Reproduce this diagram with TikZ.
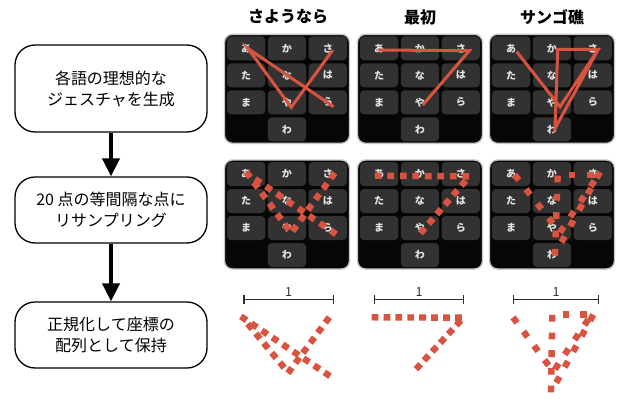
\documentclass[tikz,border=0pt]{standalone}
\usepackage{fontspec}
\setmainfont{Noto Sans CJK JP}
\usetikzlibrary{decorations.markings,arrows.meta}
\definecolor{strokec}{RGB}{217,84,64}
\definecolor{keyc}{RGB}{50,50,50}
\definecolor{kbc}{RGB}{6,6,6}
\definecolor{keytxt}{RGB}{228,228,228}
\definecolor{barc}{RGB}{45,45,45}
\newcommand\kbdraw[3]{%
\begin{scope}[shift={(#1,#2)}]
  \draw[draw=black!22, line width=1.4pt, fill=kbc, rounded corners=8pt] (0,0) rectangle (125,109);
  \foreach \r/\c/\lab in {0/0/あ,0/1/か,0/2/さ,1/0/た,1/1/な,1/2/は,2/0/ま,2/1/や,2/2/ら,3/1/わ}{
    \fill[keyc, rounded corners=4pt] ({2.5+\c*40.8},{2+\r*27}) rectangle +(38.3,24);
    \node[keylab] (#3-\r-\c) at ({21.65+\c*40.8},{14+\r*27}) {\lab};
  }
\end{scope}}
\begin{document}
\begin{tikzpicture}[x=1pt,y=-1pt,
  stepbox/.style={draw=black, line width=1.3pt, rounded corners=20pt, minimum width=192pt, align=center, inner sep=0pt, font=\fontsize{16}{21}\selectfont},
  flowarrow/.style={line width=4pt, -{Triangle[length=18pt,width=17pt]}},
  keylab/.style={text=keytxt, font=\bfseries\fontsize{10}{10}\selectfont, inner sep=0pt},
  title/.style={font=\bfseries\fontsize{16}{16}\selectfont, inner sep=0pt},
  gesture/.style={draw=strokec, line width=3pt, line join=miter},
  resampled/.style={decorate, decoration={markings, mark=between positions 0 and 1 step #1 with {\fill[strokec] (-3.4pt,-3.2pt) rectangle (3.4pt,3.2pt);}}},
  resampled/.default=0.0526315,
  scalebar/.style={draw=barc, line width=1.2pt, {Bar[width=9pt]}-{Bar[width=9pt]}},
  barlab/.style={above, inner sep=2pt, text=barc, font=\fontsize{12.5}{12.5}\selectfont}
]
\useasboundingbox (0,0) rectangle (622,399);

% left flow
\node[stepbox, minimum height=87pt] (box1) at (111,88.5) {各語の理想的な\\ジェスチャを生成};
\node[stepbox, minimum height=66pt] (box2) at (111,210) {20 点の等間隔な点に\\リサンプリング};
\node[stepbox, minimum height=66pt] (box3) at (111,335) {正規化して座標の\\配列として保持};
\draw[flowarrow] (box1.south) -- (box2.north);
\draw[flowarrow] (box2.south) -- (box3.north);

% titles
\node[title] (t1) at (288,17) {さようなら};
\node[title] (t2) at (420,17) {最初};
\node[title] (t3) at (552,17) {サンゴ礁};

% row 1: keyboards with gestures
\kbdraw{224.5}{34.3}{ka}
\kbdraw{357.5}{34.3}{kb}
\kbdraw{489.5}{34.3}{kc}
\begin{scope}[shift={(224.5,34.3)}]
  \draw[gesture] (108.3,15.7) -- (66.7,73) -- (23.3,14) -- (109,72.4);
\end{scope}
\begin{scope}[shift={(357.5,34.3)}]
  \draw[gesture] (20.8,15.7) -- (111.8,16.4) -- (65.2,70.7);
\end{scope}
\begin{scope}[shift={(489.5,34.3)}]
  \draw[gesture] (108.8,15) -- (65.5,94) -- (68.2,15) -- (108.8,15) -- (70.5,72.4) -- (27.2,17.4);
\end{scope}

% row 2: resampled
\kbdraw{224.5}{160}{kd}
\kbdraw{357.5}{160}{ke}
\kbdraw{489.5}{160}{kf}
\begin{scope}[shift={(224.5,160)}]
  \path[resampled] (108.3,15.7) -- (66.7,73) -- (23.3,14) -- (109,72.4);
\end{scope}
\begin{scope}[shift={(357.5,160)}]
  \path[resampled=0.0769230] (20.8,15.7) -- (111.8,16.4) -- (65.2,70.7);
\end{scope}
\begin{scope}[shift={(489.5,160)}]
  \path[resampled] (108.8,15) -- (65.5,94) -- (68.2,15) -- (108.8,15) -- (70.5,72.4) -- (27.2,17.4);
\end{scope}

% row 3: normalized
\coordinate (b1l) at (243.3,299.3); \coordinate (b1r) at (334,299.3);
\coordinate (b2l) at (374,299.3);   \coordinate (b2r) at (464.3,299.3);
\coordinate (b3l) at (512.7,299.3); \coordinate (b3r) at (599.3,299.3);
\draw[scalebar] (b1l) -- node[barlab] (l1) {1} (b1r);
\draw[scalebar] (b2l) -- node[barlab] (l2) {1} (b2r);
\draw[scalebar] (b3l) -- node[barlab] (l3) {1} (b3r);
\path[resampled] (327.3,320) -- (288.3,372.7) -- (242.7,317.7) -- (327.3,374.3);
\path[resampled=0.0769230] (375,317.3) -- (463.3,317.7) -- (418.3,366.7);
\path[resampled] (591.7,317.7) -- (551,392.3) -- (552.3,314.3) -- (591.7,314.3) -- (553.3,371.7) -- (515,320);
\end{tikzpicture}
\end{document}
